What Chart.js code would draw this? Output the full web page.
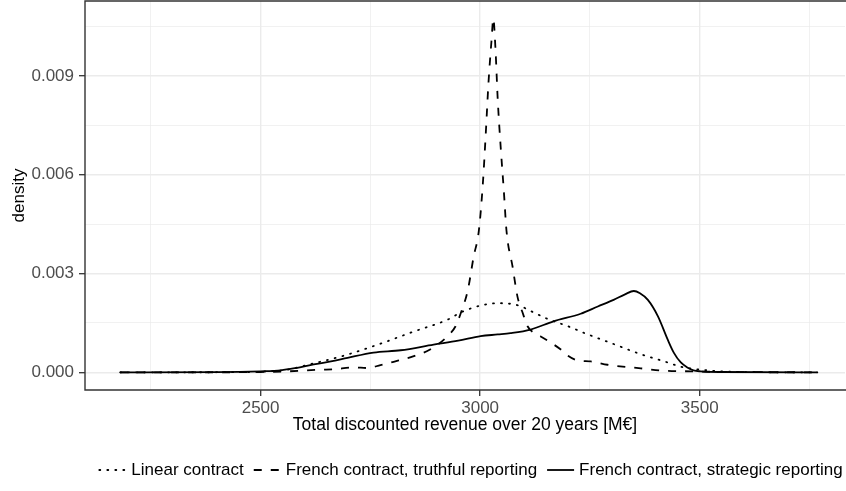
<!DOCTYPE html>
<html>
<head>
<meta charset="utf-8">
<script src="https://cdn.jsdelivr.net/npm/chart.js@4/dist/chart.umd.min.js"></script>
<style>
html,body{margin:0;padding:0;background:#ffffff;}
#wrap{width:846px;height:491px;}
</style>
</head>
<body>
<div id="wrap"><canvas id="c" width="846" height="491"></canvas></div>
<script>
// ---------- data ----------
const seriesNames = ["Linear contract", "French contract, truthful reporting", "French contract, strategic reporting"];

const linearX = [2180, 2400, 2500, 2560, 2600, 2620, 2660, 2698, 2773, 2849, 2926, 2956, 3001, 3040, 3085, 3122, 3154, 3200, 3240, 3304, 3366, 3427, 3457, 3502, 3550, 3620, 3768];
const linearY = [0, 0.000003, 0.00002, 0.00008, 0.0002, 0.00027, 0.0004, 0.00054, 0.00087, 0.00124, 0.0016, 0.00182, 0.00203, 0.0021, 0.00204, 0.00182, 0.00162, 0.0014, 0.00118, 0.00086, 0.00055, 0.0003, 0.00017, 0.00008, 0.00003, 0.000005, 0];

const truthX = [2180, 2450, 2500, 2561, 2637, 2666, 2712, 2744, 2773, 2803, 2849, 2887, 2926, 2944, 2956, 2972, 2985, 2997, 3006, 3013, 3019, 3026, 3030, 3035, 3040, 3047, 3054, 3060, 3074, 3085, 3097, 3108, 3122, 3138, 3161, 3183, 3200, 3222, 3252, 3290, 3366, 3418, 3480, 3560, 3768];
const truthY = [0, 0.000003, 0.00001, 0.00003, 0.00008, 0.00009, 0.00015, 0.00013, 0.00022, 0.00032, 0.00049, 0.0007, 0.0011, 0.0014, 0.0018, 0.0025, 0.0035, 0.0043, 0.0057, 0.0073, 0.0088, 0.0101, 0.01074, 0.0098, 0.0083, 0.0068, 0.0055, 0.0043, 0.0032, 0.0023, 0.0018, 0.0014, 0.0012, 0.00109, 0.0009, 0.0007, 0.0005, 0.00036, 0.00033, 0.00023, 0.00012, 0.00005, 0.00003, 0.00001, 0];

const strategicX = [2180, 2400, 2500, 2546, 2580, 2621, 2660, 2698, 2757, 2819, 2894, 2950, 3001, 3040, 3069, 3115, 3167, 3229, 3268, 3304, 3330, 3350, 3364, 3382, 3405, 3427, 3441, 3457, 3473, 3486, 3502, 3548, 3768];
const strategicY = [0, 0.000005, 0.00003, 0.00006, 0.00013, 0.00024, 0.00033, 0.00044, 0.0006, 0.00067, 0.00084, 0.00096, 0.0011, 0.00115, 0.00119, 0.0013, 0.00155, 0.00178, 0.002, 0.0022, 0.00237, 0.00247, 0.0024, 0.0022, 0.0017, 0.001, 0.0006, 0.0003, 0.00014, 0.00006, 0.00003, 0.00001, 0];

const xTickValues = [2250, 2500, 2750, 3000, 3250, 3500, 3750];
const xMajorTicks = [2500, 3000, 3500];
const yTickValues = [0, 0.0015, 0.003, 0.0045, 0.006, 0.0075, 0.009, 0.0105];
const yMajorTicks = [0, 0.003, 0.006, 0.009];
const xTitle = "Total discounted revenue over 20 years [M€]";
const yTitle = "density";

// ---------- chart ----------
const FONT = "'Liberation Sans', Arial, Helvetica, sans-serif";
const lineStyles = [
  {dash: [1, 7], cap: 'round'},
  {dash: [8, 9], cap: 'butt'},
  {dash: [], cap: 'butt'}
];
const xsList = [linearX, truthX, strategicX];
const ysList = [linearY, truthY, strategicY];

const datasets = seriesNames.map((name, i) => ({
  label: name,
  data: xsList[i].map((x, j) => ({x: x, y: ysList[i][j]})),
  borderColor: '#000000',
  borderWidth: 1.8,
  borderDash: lineStyles[i].dash,
  borderCapStyle: lineStyles[i].cap,
  pointRadius: 0,
  fill: false,
  cubicInterpolationMode: 'monotone'
}));

const isMajor = (v, list) => list.some(m => Math.abs(m - v) < 1e-9);

// panel border: the panel continues past the right edge of the frame, so only top, left and bottom sides show
const panelBorder = {
  id: 'panelBorder',
  afterDatasetsDraw(chart) {
    const {ctx, chartArea: a} = chart;
    ctx.save();
    ctx.strokeStyle = '#333333';
    ctx.lineWidth = 1.4;
    ctx.setLineDash([]);
    ctx.beginPath();
    ctx.moveTo(a.right + 10, a.top);
    ctx.lineTo(a.left, a.top);
    ctx.lineTo(a.left, a.bottom);
    ctx.lineTo(a.right + 10, a.bottom);
    ctx.stroke();
    ctx.restore();
  }
};

const customLegend = {
  id: 'customLegend',
  afterDraw(chart) {
    const {ctx, chartArea: a} = chart;
    ctx.save();
    ctx.font = '17px ' + FONT;
    const keyW = 27, keyGap = 5, itemGap = 10;
    const widths = seriesNames.map(n => ctx.measureText(n).width);
    const total = widths.reduce((s, w) => s + w + keyW + keyGap, 0) + itemGap * (seriesNames.length - 1);
    let x = (a.left + a.right) / 2 - total / 2 + 6;
    const y = 470;
    seriesNames.forEach((n, i) => {
      const ds = chart.data.datasets[i];
      ctx.beginPath();
      ctx.strokeStyle = ds.borderColor;
      ctx.lineWidth = ds.borderWidth;
      ctx.lineCap = ds.borderCapStyle;
      ctx.setLineDash(ds.borderDash);
      ctx.moveTo(x, y);
      ctx.lineTo(x + keyW, y);
      ctx.stroke();
      ctx.setLineDash([]);
      ctx.fillStyle = '#000000';
      ctx.textBaseline = 'middle';
      ctx.textAlign = 'left';
      ctx.fillText(n, x + keyW + keyGap, y);
      x += keyW + keyGap + widths[i] + itemGap;
    });
    ctx.restore();
  }
};

new Chart(document.getElementById('c'), {
  type: 'line',
  data: {datasets: datasets},
  plugins: [panelBorder, customLegend],
  options: {
    responsive: false,
    devicePixelRatio: 1,
    animation: false,
    layout: {padding: {left: 0, right: 1, top: 1, bottom: 55}},
    plugins: {legend: {display: false}, tooltip: {enabled: false}},
    scales: {
      x: {
        type: 'linear',
        min: 2100,
        max: 3831,
        afterBuildTicks: s => { s.ticks = xTickValues.map(v => ({value: v})); },
        afterFit: s => { s.height = 46; s.paddingLeft = 0; s.paddingRight = 0; },
        ticks: {
          autoSkip: false, maxRotation: 0, minRotation: 0,
          callback: v => isMajor(v, xMajorTicks) ? String(v) : '',
          font: {family: FONT, size: 17}, color: '#4D4D4D', padding: 2
        },
        grid: {
          color: '#EBEBEB',
          lineWidth: c => (c.tick && isMajor(c.tick.value, xMajorTicks)) ? 1.4 : 0.7,
          tickColor: c => (c.tick && isMajor(c.tick.value, xMajorTicks)) ? '#333333' : 'rgba(0,0,0,0)',
          tickWidth: 1.3,
          tickLength: 6,
          drawTicks: true
        },
        border: {display: false},
        title: {display: true, text: xTitle, color: '#000000', font: {family: FONT, size: 17.5}, padding: 0}
      },
      y: {
        type: 'linear',
        min: -0.000537,
        max: 0.01128,
        afterBuildTicks: s => { s.ticks = yTickValues.map(v => ({value: v})); },
        afterFit: s => { s.width = 85; s.paddingTop = 0; s.paddingBottom = 0; },
        ticks: {
          autoSkip: false,
          callback: v => isMajor(v, yMajorTicks) ? v.toFixed(3) : '',
          font: {family: FONT, size: 17}, color: '#4D4D4D', padding: 5
        },
        grid: {
          color: '#EBEBEB',
          lineWidth: c => (c.tick && isMajor(c.tick.value, yMajorTicks)) ? 1.4 : 0.7,
          tickColor: c => (c.tick && isMajor(c.tick.value, yMajorTicks)) ? '#333333' : 'rgba(0,0,0,0)',
          tickWidth: 1.3,
          tickLength: 6,
          drawTicks: true
        },
        border: {display: false},
        title: {display: true, text: yTitle, color: '#000000', font: {family: FONT, size: 17}, padding: {top: 9, bottom: 0}}
      }
    }
  }
});
</script>
</body>
</html>
